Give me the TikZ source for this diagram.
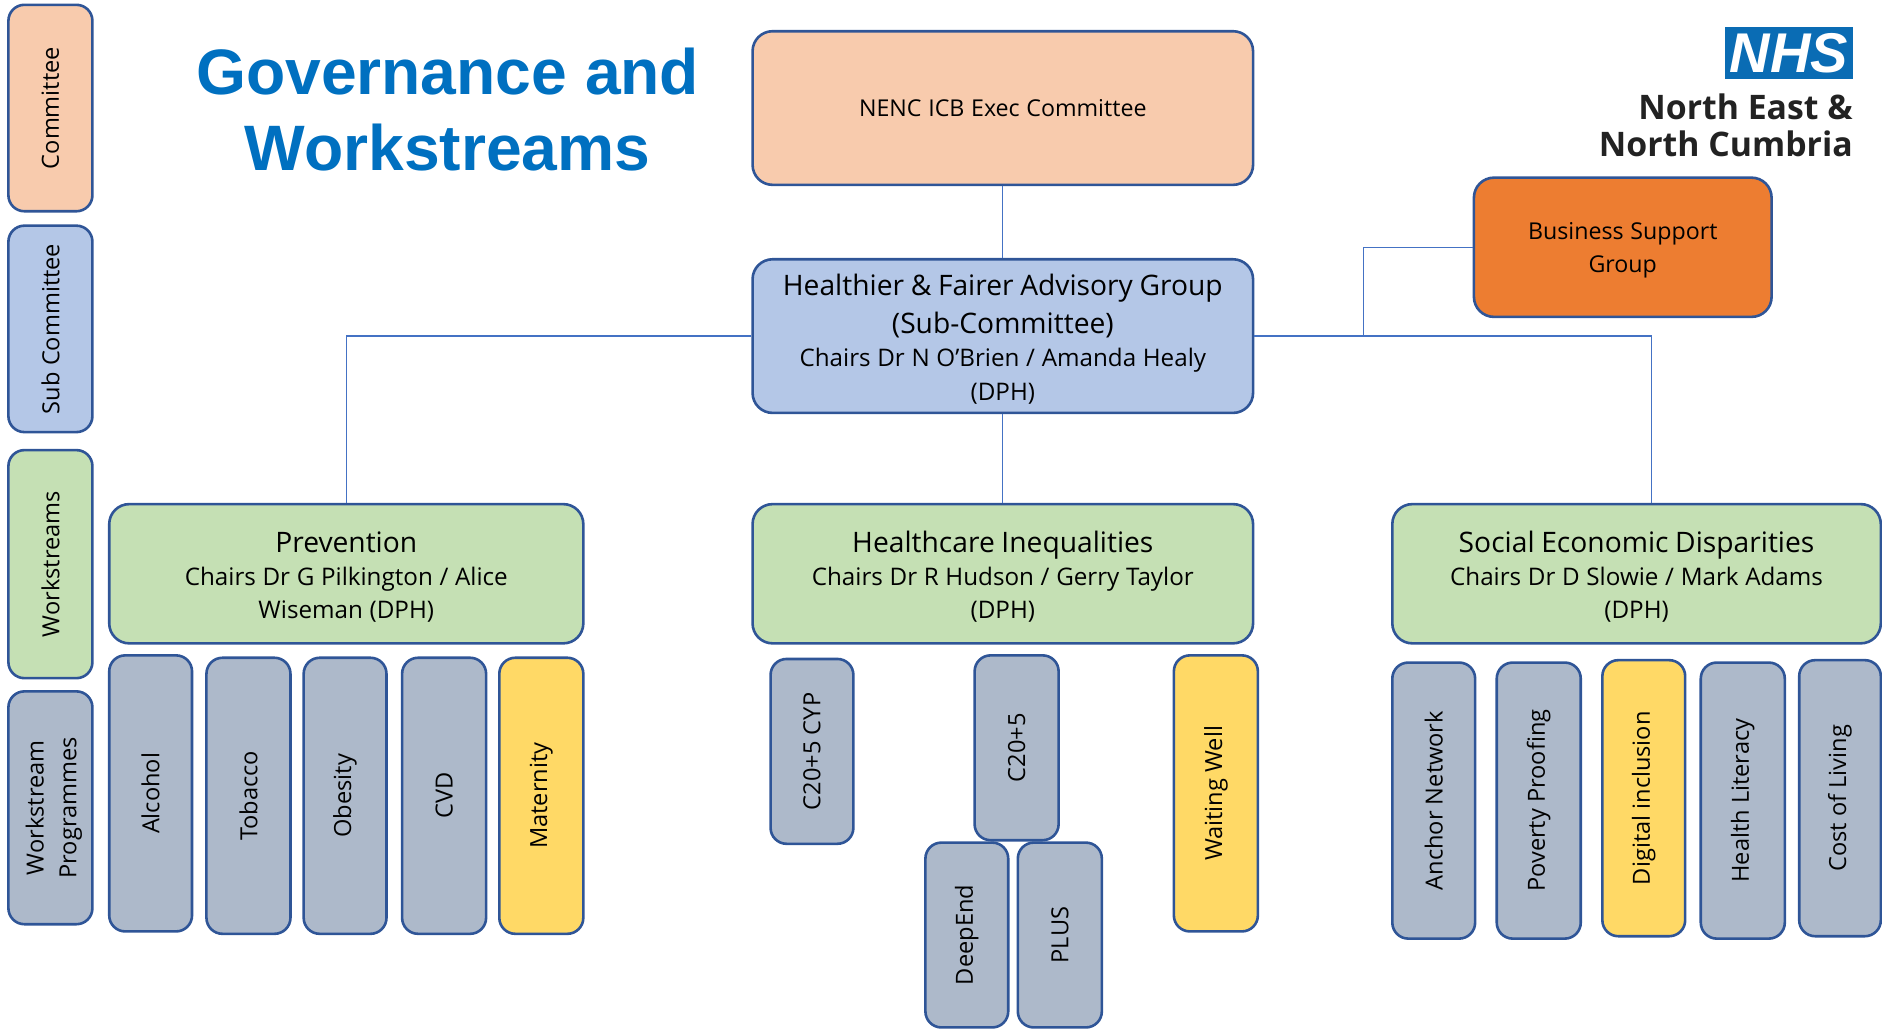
\documentclass[tikz,border=0pt]{standalone}
\usepackage{fontspec}
\setmainfont{Open Sans}
\newfontfamily\titlefont{Liberation Sans}
\definecolor{peachc}{HTML}{F8CBAD}
\definecolor{bluec}{HTML}{B4C7E7}
\definecolor{orangec}{HTML}{ED7D31}
\definecolor{greenc}{HTML}{C5E0B4}
\definecolor{greyc}{HTML}{ADB9CA}
\definecolor{yellowc}{HTML}{FFD966}
\definecolor{edgec}{HTML}{2F5597}
\definecolor{linkc}{HTML}{4472C4}
\definecolor{titlec}{HTML}{0070C0}
\definecolor{nhsc}{HTML}{0A6CB4}
\definecolor{logotext}{HTML}{222222}
\newcommand{\fbig}{\fontsize{14.1}{19}\selectfont}
\newcommand{\fsm}{\fontsize{12.1}{16.6}\selectfont}
\newcommand{\fone}{\fontsize{11.6}{16.4}\selectfont}
\newcommand{\frot}{\fontsize{11.8}{16.4}\selectfont}
\newcommand{\dropbig}{\rule{0pt}{13.8pt}}
\newcommand{\dropone}{\rule{0pt}{11.8pt}}
\tikzset{
  x=0.6pt,y=-0.6pt,
  box/.style={draw=edgec,line width=1.3pt,rounded corners=10pt,align=center,inner sep=0pt,text=black},
  link/.style={draw=linkc,line width=0.6pt},
}
% horizontal box: name x1 y1 x2 y2 style text
\newcommand{\hbx}[7]{%
  \pgfmathsetmacro{\bw}{0.6*(#4-#2)}\pgfmathsetmacro{\bh}{0.6*(#5-#3)}%
  \node[box,fill=#6,minimum width=\bw pt,minimum height=\bh pt,text width=\bw pt-12pt] (#1) at ({(#2+#4)/2},{(#3+#5)/2}) {#7\par};}
% vertical box: text reads bottom to top
\newcommand{\vbx}[7]{%
  \pgfmathsetmacro{\bw}{0.6*(#4-#2)}\pgfmathsetmacro{\bh}{0.6*(#5-#3)}%
  \node[box,fill=#6,rotate=90,font=\frot,minimum width=\bh pt,minimum height=\bw pt,rounded corners=8pt] (#1) at ({(#2+#4)/2},{(#3+#5)/2}) {#7};}
\begin{document}
\begin{tikzpicture}
\useasboundingbox (0,0) rectangle (1568,856.6);
% side legend
\vbx{legc}{7}{4}{77}{176}{peachc}{Committee}
\vbx{legs}{7}{188}{77}{360}{bluec}{Sub Committee}
\vbx{legw}{7}{375}{77}{565}{greenc}{Workstreams}
\vbx{legp}{7}{576}{77}{770}{greyc}{\rule{0pt}{12.5pt}Workstream\\Programmes}
% title
\node[font=\titlefont\bfseries\fontsize{32.1}{38}\selectfont,text=titlec,align=center,inner sep=0pt] (title) at (373,91) {Governance and\\Workstreams};
% logo
\node[fill=nhsc,minimum width=64pt,minimum height=26pt,inner sep=0pt,text=white,font=\titlefont\bfseries\itshape\fontsize{28}{28}\selectfont] (nhs) at (1490.5,44.5) {NHS};
\node[anchor=north east,align=right,inner sep=0pt,text=logotext,font=\bfseries\fontsize{16.9}{18.6}\selectfont] (nenc) at (1544,78) {North East \&\\North Cumbria};
% main boxes
\hbx{exec}{627}{26}{1044}{154}{peachc}{\fone NENC ICB Exec Committee}
\hbx{hf}{627}{216}{1044}{344}{bluec}{{\fbig\dropbig Healthier \& Fairer Advisory Group\\(Sub-Committee)\par}\fsm Chairs Dr N O’Brien / Amanda Healy\\(DPH)}
\hbx{bsg}{1228}{148}{1476}{264}{orangec}{\fone\dropone Business Support\\Group}
\hbx{prev}{91}{420}{486}{536}{greenc}{{\fbig\dropbig Prevention\par}\fsm Chairs Dr G Pilkington / Alice\\Wiseman (DPH)}
\hbx{hi}{627}{420}{1044}{536}{greenc}{{\fbig\dropbig Healthcare Inequalities\par}\fsm Chairs Dr R Hudson / Gerry Taylor\\(DPH)}
\hbx{sed}{1160}{420}{1567}{536}{greenc}{{\fbig\dropbig Social Economic Disparities\par}\fsm Chairs Dr D Slowie / Mark Adams\\(DPH)}
% programmes
\vbx{alc}{91}{546}{160}{776}{greyc}{Alcohol}
\vbx{tob}{172}{548}{242}{778}{greyc}{Tobacco}
\vbx{obe}{253}{548}{322}{778}{greyc}{Obesity}
\vbx{cvd}{335}{548}{405}{778}{greyc}{CVD}
\vbx{mat}{416}{548}{486}{778}{yellowc}{Maternity}
\vbx{cyp}{642}{549}{711}{703}{greyc}{C20+5 CYP}
\vbx{cfive}{812}{546}{882}{700}{greyc}{C20+5}
\vbx{deep}{771}{702}{840}{856}{greyc}{DeepEnd}
\vbx{plus}{848}{702}{918}{856}{greyc}{PLUS}
\vbx{wait}{978}{546}{1048}{776}{yellowc}{Waiting Well}
\vbx{anch}{1160}{552}{1229}{782}{greyc}{Anchor Network}
\vbx{pov}{1247}{552}{1317}{782}{greyc}{Poverty Proofing}
\vbx{dig}{1335}{550}{1404}{780}{yellowc}{Digital inclusion}
\vbx{lit}{1417}{552}{1487}{782}{greyc}{Health Literacy}
\vbx{cost}{1499}{550}{1567}{780}{greyc}{Cost of Living}
% connectors
\coordinate (jr) at (1376,280);
\coordinate (jb) at (1136,280);
\draw[link] (exec) -- (hf);
\draw[link] (hf.west) -| (prev.north);
\draw[link] (hf) -- (hi);
\draw[link] (hf.east) -- (jb) -- (jr) -- (jr |- sed.north);
\draw[link] (jb) |- (bsg.west);
\end{tikzpicture}
\end{document}
